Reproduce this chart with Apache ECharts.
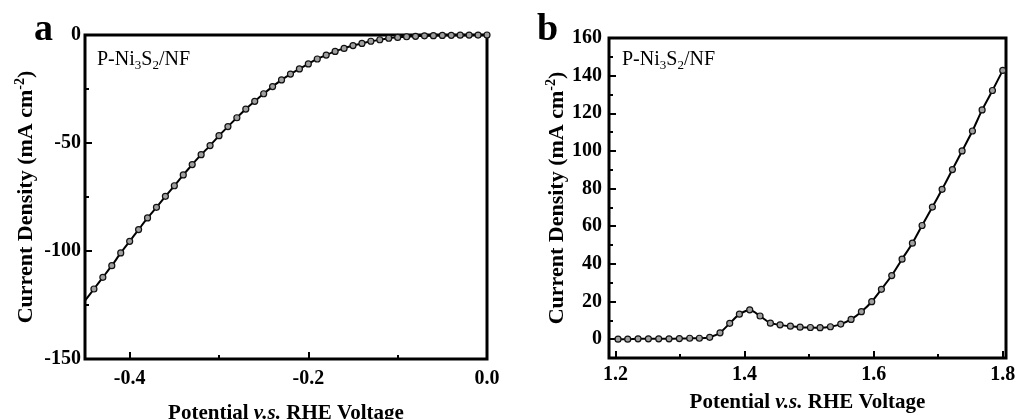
<!DOCTYPE html>
<html>
<head>
<meta charset="utf-8">
<title>P-Ni3S2/NF polarization curves</title>
<script src="https://cdn.jsdelivr.net/npm/echarts@6.0.0/dist/echarts.min.js"></script>
<style>
  html, body { margin: 0; padding: 0; background: #fff; }
  #chart { width: 1019px; height: 419px; }
</style>
</head>
<body>
<div id="chart"></div>
<script>
  // panel a : HER side
  var herPotential = [-0.45, -0.44, -0.43, -0.42, -0.41, -0.40, -0.39, -0.38, -0.37, -0.36,
    -0.35, -0.34, -0.33, -0.32, -0.31, -0.30, -0.29, -0.28, -0.27, -0.26,
    -0.25, -0.24, -0.23, -0.22, -0.21, -0.20, -0.19, -0.18, -0.17, -0.16,
    -0.15, -0.14, -0.13, -0.12, -0.11, -0.10, -0.09, -0.08, -0.07, -0.06,
    -0.05, -0.04, -0.03, -0.02, -0.01, 0.00];
  var herCurrent = [-123, -117.6, -112.2, -106.8, -100.9, -95.5, -90.1, -84.7, -79.8, -74.7,
    -69.8, -64.8, -60.0, -55.4, -51.2, -46.6, -42.4, -38.3, -34.3, -30.7,
    -27.2, -23.9, -20.8, -18.1, -15.7, -13.4, -11.1, -9.3, -7.6, -6.2,
    -4.9, -3.9, -2.9, -2.2, -1.5, -1.1, -0.8, -0.6, -0.4, -0.3,
    -0.2, -0.15, -0.1, -0.05, -0.02, 0];

  // panel b : OER side
  var oerPotential = [1.204, 1.219, 1.235, 1.251, 1.267, 1.283, 1.299, 1.315, 1.330, 1.346,
    1.362, 1.377, 1.392, 1.408, 1.424, 1.440, 1.455, 1.471, 1.486, 1.502,
    1.517, 1.533, 1.549, 1.565, 1.581, 1.597, 1.612, 1.628, 1.644, 1.660,
    1.675, 1.691, 1.706, 1.722, 1.737, 1.753, 1.768, 1.784, 1.800];
  var oerCurrent = [0, 0, 0.2, 0.2, 0.2, 0.2, 0.3, 0.5, 0.5, 1.0,
    3.4, 8.4, 13.3, 15.6, 12.3, 8.5, 7.6, 6.9, 6.4, 6.2,
    6.1, 6.6, 8.0, 10.5, 14.6, 19.9, 26.5, 33.8, 42.5, 51.0,
    60.4, 70.2, 79.6, 90.1, 100.0, 110.6, 121.8, 132.1, 142.8];

  // ticks
  var herXTicks = [-0.4, -0.2, 0.0];
  var herXMinor = [-0.3, -0.1];
  var herYTicks = [-150, -100, -50, 0];
  var herYMinor = [-125, -75, -25];
  var oerXTicks = [1.2, 1.4, 1.6, 1.8];
  var oerXMinor = [1.3, 1.5, 1.7];
  var oerYTicks = [0, 20, 40, 60, 80, 100, 120, 140, 160];
  var oerYMinor = [10, 30, 50, 70, 90, 110, 130, 150];

  var FONT = "'Liberation Serif', 'Times New Roman', serif";

  var xName = '{t|Potential }{i|v.s.}{t| RHE Voltage}';
  var yName = '{t|Current Density (mA cm}{s|-2}{t|)}';
  function nameRich(size) {
    return {
      t: { fontFamily: FONT, fontSize: size, fontWeight: 'bold', color: '#000', lineHeight: size + 4 },
      i: { fontFamily: FONT, fontSize: size, fontWeight: 'bold', fontStyle: 'italic', color: '#000', lineHeight: size + 4 },
      s: { fontFamily: FONT, fontSize: 14, fontWeight: 'bold', color: '#000', lineHeight: 14, verticalAlign: 'top' }
    };
  }
  var labelRich = {
    n: { fontFamily: FONT, fontSize: 20, color: '#111', lineHeight: 24 },
    s: { fontFamily: FONT, fontSize: 13, color: '#111', lineHeight: 13, verticalAlign: 'bottom' }
  };

  function majorAxis(grid, pos, min, max, ticks, fmt, margin, name, gap, size) {
    return {
      type: 'value', gridIndex: grid, position: pos, min: min, max: max,
      axisLine: { show: false, onZero: false },
      splitLine: { show: false },
      axisTick: { inside: true, length: 7, customValues: ticks, lineStyle: { color: '#000', width: 2 } },
      axisLabel: {
        customValues: ticks, margin: margin, formatter: fmt,
        fontFamily: FONT, fontSize: 20, fontWeight: 'bold', color: '#000'
      },
      name: name, nameLocation: 'middle', nameGap: gap,
      nameRotate: (pos == 'left') ? 90 : 0,
      nameTextStyle: { rich: nameRich(size) }
    };
  }

  function minorAxis(grid, pos, min, max, ticks) {
    return {
      type: 'value', gridIndex: grid, position: pos, min: min, max: max,
      axisLine: { show: false, onZero: false },
      splitLine: { show: false },
      axisLabel: { show: false },
      axisTick: { inside: true, length: 4, customValues: ticks, lineStyle: { color: '#000', width: 2 } }
    };
  }

  function pairs(xs, ys) {
    var out = [];
    for (var i = 0; i < xs.length; i++) {
      out.push([xs[i], ys[i]]);
    }
    return out;
  }

  var herData = pairs(herPotential, herCurrent);
  herData[0] = { value: herData[0], symbol: 'none' };   // first point sits on the frame

  var lineSeries = function (xi, data) {
    return {
      type: 'line', xAxisIndex: xi, yAxisIndex: xi, data: data,
      smooth: 0.2,
      symbol: 'circle', symbolSize: 6,
      lineStyle: { color: '#000', width: 2 },
      itemStyle: { color: '#a0a0a0', borderColor: '#111', borderWidth: 1.2 },
      z: 3
    };
  };

  var fmt1 = function (v) { return v.toFixed(1); };

  var option = {
    animation: false,
    backgroundColor: '#fff',
    grid: [
      { left: 85, right: 532, top: 35, bottom: 60, show: true, borderColor: '#000', borderWidth: 3, outerBoundsMode: 'none' },
      { left: 609, right: 13, top: 38, bottom: 61, show: true, borderColor: '#000', borderWidth: 3, outerBoundsMode: 'none' }
    ],
    xAxis: [
      majorAxis(0, 'bottom', -0.45, 0, herXTicks, fmt1, 10, xName, 42, 21),
      minorAxis(0, 'bottom', -0.45, 0, herXMinor),
      majorAxis(1, 'bottom', 1.19, 1.805, oerXTicks, fmt1, 7, xName, 32, 21),
      minorAxis(1, 'bottom', 1.19, 1.805, oerXMinor)
    ],
    yAxis: [
      majorAxis(0, 'left', -150, 0, herYTicks, null, 4, yName, 46, 22),
      minorAxis(0, 'left', -150, 0, herYMinor),
      majorAxis(1, 'left', -10, 160, oerYTicks, null, 7, yName, 38, 22),
      minorAxis(1, 'left', -10, 160, oerYMinor)
    ],
    series: [
      lineSeries(0, herData),
      lineSeries(2, pairs(oerPotential, oerCurrent))
    ],
    graphic: [
      { type: 'text', x: 34, y: 30, style: { text: 'a', font: "bold 38px " + FONT, fill: '#000', verticalAlign: 'middle' } },
      { type: 'text', x: 537, y: 30, style: { text: 'b', font: "bold 38px " + FONT, fill: '#000', verticalAlign: 'middle' } },
      { type: 'text', x: 97, y: 60, style: { text: '{n|P-Ni}{s|3}{n|S}{s|2}{n|/NF}', rich: labelRich, verticalAlign: 'middle' } },
      { type: 'text', x: 622, y: 60, style: { text: '{n|P-Ni}{s|3}{n|S}{s|2}{n|/NF}', rich: labelRich, verticalAlign: 'middle' } }
    ]
  };

  var myChart = echarts.init(document.getElementById('chart'));
  myChart.setOption(option);
</script>
</body>
</html>
